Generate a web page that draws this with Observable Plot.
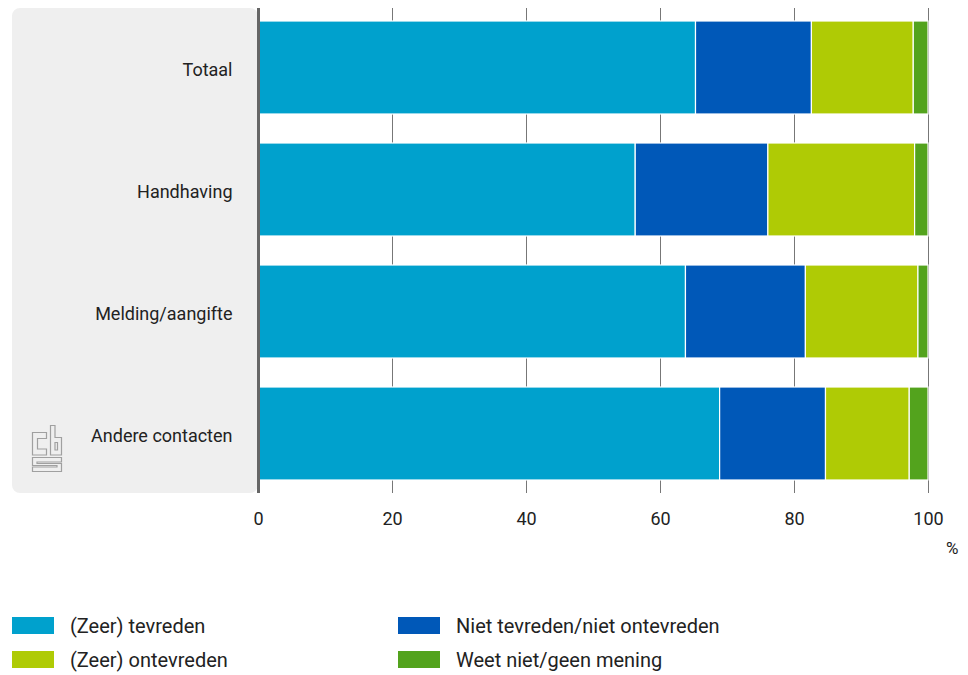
<!DOCTYPE html>
<html>
<head>
<meta charset="utf-8">
<script src="https://cdn.jsdelivr.net/npm/d3@7"></script>
<script src="https://cdn.jsdelivr.net/npm/@observablehq/plot@0.6"></script>
<style>
  html, body { margin: 0; padding: 0; background: #fff; }
  body { font-family: Roboto, "Noto Sans", sans-serif; color: #222; }
  #wrap { position: relative; width: 968px; height: 675px; overflow: hidden; }
  #panel { position: absolute; left: 12px; top: 8px; width: 246px; height: 485px; background: #efefef; border-radius: 8px; }
  #chart { position: absolute; left: 0; top: 0; }
  #logo { position: absolute; left: 29px; top: 423px; }
  .leg { position: absolute; display: flex; align-items: center; font-size: 20px; color: #222; }
  .sw { width: 42px; height: 17px; margin-right: 16px; }
</style>
</head>
<body>
<div id="wrap">
  <div id="panel"></div>
  <svg id="logo" width="36" height="52" viewBox="0 0 36 52">
    <g fill="none" stroke="#a0a0a0" stroke-width="1.2" stroke-linejoin="miter">
      <path d="M3.5 9.5 H17.5 V15.5 H8.5 V26 H17.5 V32 H3.5 Z"/>
      <path d="M21.5 2.5 H26 V14.5 H32.5 V32 H21.5 Z"/>
      <path d="M26 19.5 H28.5 V27 H26 Z"/>
      <path d="M3.5 34.5 H32.5 V39 H8 V40.5 H32.5 V48.5 H3.5 V44 H28 V42.5 H3.5 Z"/>
    </g>
  </svg>
  <div id="chart"></div>
  <div id="legend"></div>
</div>
<script>
const categories = ["Totaal", "Handhaving", "Melding/aangifte", "Andere contacten"];
const series = ["(Zeer) tevreden", "Niet tevreden/niet ontevreden", "(Zeer) ontevreden", "Weet niet/geen mening"];
const colors = ["#00a1cd", "#0058b8", "#afcb05", "#53a31d"];
const tevreden = [65.3, 56.3, 63.8, 68.9];
const neutraal = [17.3, 19.8, 17.9, 15.8];
const ontevreden = [15.2, 21.9, 16.8, 12.5];
const weetNiet = [2.2, 2.0, 1.5, 2.8];
const xTicks = [0, 20, 40, 60, 80, 100];
const unitLabel = "%";

const valueSets = [tevreden, neutraal, ontevreden, weetNiet];
const data = [];
categories.forEach((c, i) => {
  series.forEach((s, j) => data.push({category: c, series: s, value: valueSets[j][i]}));
});

const plot = Plot.plot({
  width: 968,
  height: 600,
  marginLeft: 258,
  marginRight: 40,
  marginTop: 8,
  marginBottom: 107,
  style: {fontFamily: "Roboto, 'Noto Sans', sans-serif", fontSize: "16px", color: "#222", background: "transparent"},
  x: {domain: [0, 100]},
  y: {domain: categories, paddingInner: 0.235, paddingOuter: 0.1},
  color: {domain: series, range: colors},
  marks: [
    Plot.gridX(xTicks.slice(1), {stroke: "#777", strokeOpacity: 1, strokeWidth: 1}),
    Plot.barX(data, Plot.stackX({x: "value", y: "category", fill: "series", order: series, stroke: "white", strokeWidth: 1.2})),
    Plot.ruleX([0], {stroke: "#666", strokeWidth: 3}),
    Plot.axisX({ticks: xTicks, tickSize: 0, tickPadding: 19, label: null, fontSize: 18, fill: "#222"}),
    Plot.axisY({tickSize: 0, tickPadding: 26, label: null, fontSize: 18, fill: "#222", dy: 2}),
    Plot.text([unitLabel], {frameAnchor: "bottom-right", dx: 30, dy: 60, fontSize: 17, fill: "#222"})
  ]
});
document.getElementById("chart").appendChild(plot);

const legend = document.getElementById("legend");
const pos = [[12, 617], [398, 617], [12, 651], [398, 651]];
const legendOrder = [0, 1, 2, 3];
legendOrder.forEach((k, i) => {
  const d = document.createElement("div");
  d.className = "leg";
  d.style.left = pos[i][0] + "px";
  d.style.top = (pos[i][1] - 3) + "px";
  d.style.height = "23px";
  const sw = document.createElement("div");
  sw.className = "sw";
  sw.style.background = colors[k];
  const t = document.createElement("span");
  t.textContent = series[k];
  d.appendChild(sw);
  d.appendChild(t);
  legend.appendChild(d);
});
</script>
</body>
</html>
